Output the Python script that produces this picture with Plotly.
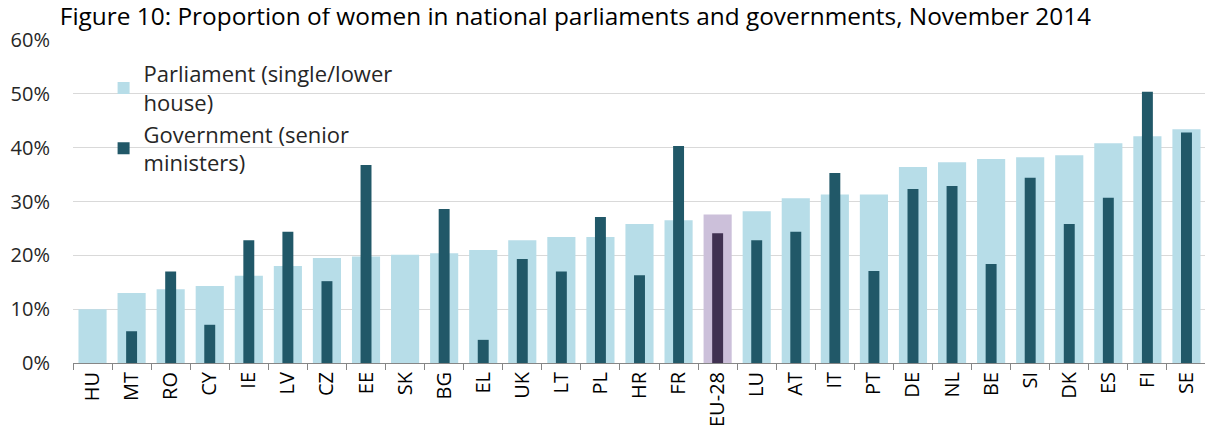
import plotly.graph_objects as go

countries = ["HU", "MT", "RO", "CY", "IE", "LV", "CZ", "EE", "SK", "BG", "EL", "UK", "LT", "PL",
             "HR", "FR", "EU-28", "LU", "AT", "IT", "PT", "DE", "NL", "BE", "SI", "DK", "ES", "FI", "SE"]
parliament = [10.0, 13.0, 13.7, 14.3, 16.2, 18.0, 19.5, 19.8, 20.1, 20.4, 21.0, 22.8, 23.4, 23.4,
              25.8, 26.5, 27.6, 28.2, 30.6, 31.3, 31.3, 36.4, 37.3, 37.9, 38.2, 38.6, 40.8, 42.1, 43.4]
government = [0.0, 5.9, 17.0, 7.1, 22.8, 24.4, 15.2, 36.8, 0.0, 28.6, 4.3, 19.3, 17.0, 27.1,
              16.3, 40.3, 24.1, 22.8, 24.4, 35.3, 17.1, 32.3, 32.9, 18.4, 34.4, 25.8, 30.7, 50.4, 42.8]

# EU-28 average is highlighted in purple
parl_colors = ["#ccc0da" if c == "EU-28" else "#b7dde8" for c in countries]
gov_colors = ["#403151" if c == "EU-28" else "#215868" for c in countries]

font = "Open Sans, Liberation Sans, sans-serif"

fig = go.Figure()
fig.add_trace(go.Bar(
    x=countries, y=[v / 100 for v in parliament],
    name="Parliament (single/lower<br>house)",
    marker=dict(color=parl_colors, line=dict(width=0)),
    width=0.72,
))
fig.add_trace(go.Bar(
    x=countries, y=[v / 100 for v in government],
    name="Government (senior<br>ministers)",
    marker=dict(color=gov_colors, line=dict(width=0)),
    width=0.28,
))

# page body adds an 8px margin, so the figure is 8px smaller than the window
fig.update_layout(
    width=1205, height=429,
    barmode="overlay",
    plot_bgcolor="white", paper_bgcolor="white",
    margin=dict(l=65, r=7, t=32, b=74),
    font=dict(family=font, size=19, color="#262626"),
    title=dict(
        text="Figure 10: Proportion of women in national parliaments and governments, November 2014",
        x=0.043, xanchor="left", xref="container",
        y=1, yanchor="top", yref="container", pad=dict(t=0, b=0),
        font=dict(family=font, size=24.4, color="#000000"),
    ),
    legend=dict(
        x=0.027, y=0.96, xanchor="left", yanchor="top",
        bgcolor="rgba(0,0,0,0)", font=dict(size=22, color="#262626"),
        itemsizing="constant", tracegroupgap=0, itemwidth=30,
    ),
    showlegend=True,
)
fig.update_xaxes(
    type="category", tickangle=-90, tickson="boundaries", automargin=False,
    ticks="outside", ticklen=6, tickcolor="#868686",
    showline=True, linecolor="#868686", linewidth=1,
    tickfont=dict(size=20, color="#000000"),
)
fig.update_yaxes(
    range=[0, 0.6], dtick=0.1, tickformat=".0%", automargin=False,
    showgrid=True, gridcolor="#d9d9d9", gridwidth=1,
    zeroline=False, ticks="outside", ticklen=18, tickcolor="rgba(0,0,0,0)",
    tickfont=dict(size=20, color="#262626"),
)

fig.write_html("out.html")
